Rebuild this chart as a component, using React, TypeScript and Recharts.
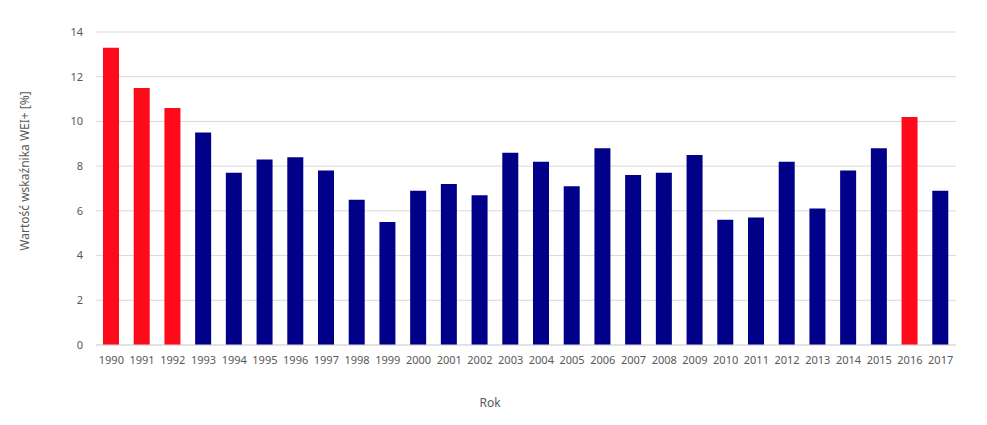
import React from 'react';
import { BarChart, Bar, XAxis, YAxis, CartesianGrid, Cell, Label } from 'recharts';

const years = ['1990','1991','1992','1993','1994','1995','1996','1997','1998','1999','2000','2001','2002','2003','2004','2005','2006','2007','2008','2009','2010','2011','2012','2013','2014','2015','2016','2017'];
const values = [13.3,11.5,10.6,9.5,7.7,8.3,8.4,7.8,6.5,5.5,6.9,7.2,6.7,8.6,8.2,7.1,8.8,7.6,7.7,8.5,5.6,5.7,8.2,6.1,7.8,8.8,10.2,6.9];
const highlightedYears = ['1990','1991','1992','2016'];
const yTicks = [0,2,4,6,8,10,12,14];

const RED = '#FF0A1A';
const NAVY = '#000088';
const FONT = '"Noto Sans", sans-serif';
const TEXT = '#595959';

const data = years.map((y, i) => ({ year: y, value: values[i] }));

export default function App() {
  return (
    <div style={{ position: 'absolute', left: 0, top: 0, width: 987, height: 425, background: '#fff' }}>
      <BarChart width={987} height={425} data={data} margin={{ top: 32, right: 31, bottom: 50, left: 0 }}>
        <CartesianGrid vertical={false} stroke="#d9d9d9" strokeWidth={1} />
        <XAxis
          dataKey="year"
          height={30}
          tickLine={false}
          axisLine={{ stroke: '#d9d9d9' }}
          tickSize={0}
          tickMargin={11}
          interval={0}
          tick={{ fontFamily: FONT, fontSize: 11, fill: TEXT }}
        >
          <Label
            content={() => (
              <text x={490} y={407} textAnchor="middle" fontFamily={FONT} fontSize={12} fill={TEXT}>Rok</text>
            )}
          />
        </XAxis>
        <YAxis
          width={96}
          domain={[0, 14]}
          ticks={yTicks}
          tickLine={false}
          axisLine={false}
          tickSize={0}
          tickMargin={13}
          tick={{ fontFamily: FONT, fontSize: 11, fill: TEXT }}
        >
          <Label
            content={() => (
              <text x={29} y={171} transform="rotate(-90 29 171)" textAnchor="middle" fontFamily={FONT} fontSize={12} fill={TEXT}>Wartość wskaźnika WEI+ [%]</text>
            )}
          />
        </YAxis>
        <Bar dataKey="value" barSize={16} isAnimationActive={false}>
          {data.map((d) => (
            <Cell key={d.year} fill={highlightedYears.includes(d.year) ? RED : NAVY} />
          ))}
        </Bar>
      </BarChart>
    </div>
  );
}
